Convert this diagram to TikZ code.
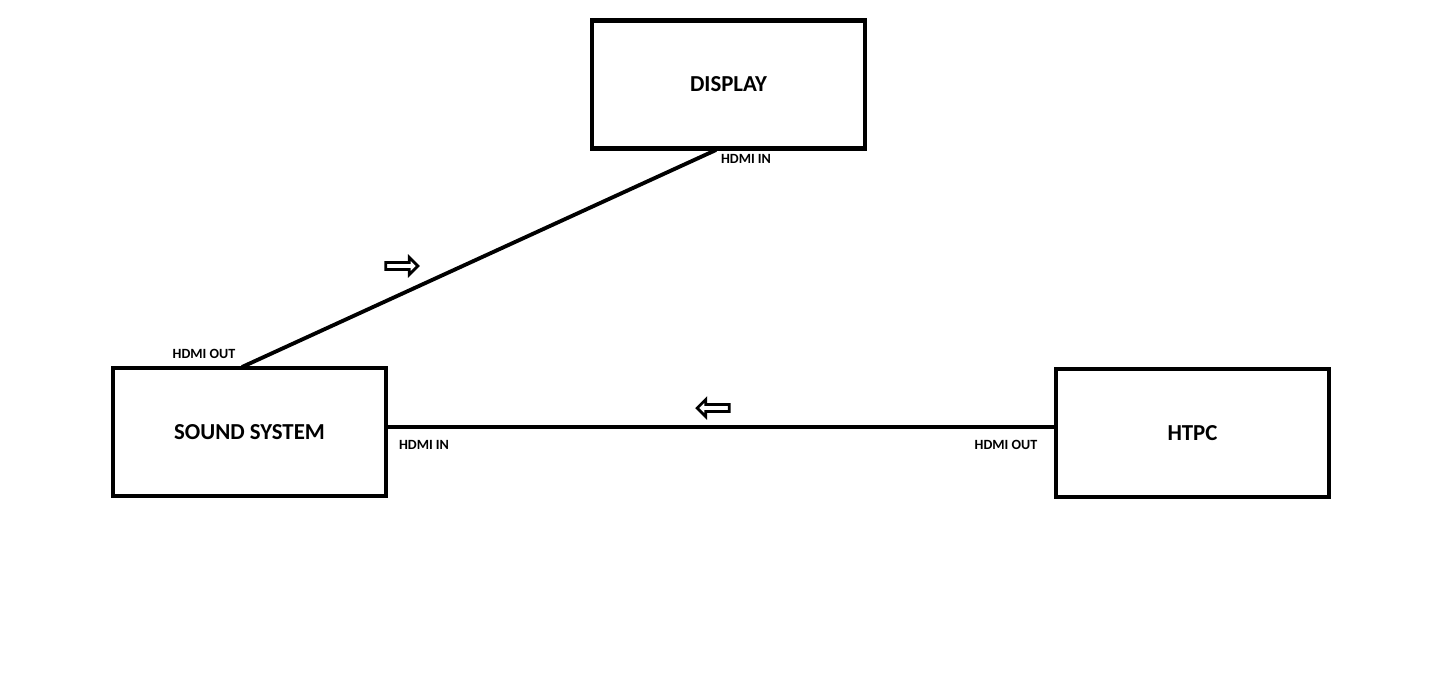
\documentclass[tikz,border=0pt]{standalone}
\usepackage{fontspec}
\setmainfont{Carlito}
\usetikzlibrary{shapes.arrows}
\tikzset{
  device/.style={draw, line width=1.2pt, minimum width=2.73cm, minimum height=1.28cm, font=\bfseries\fontsize{6.5}{7}\selectfont},
  port/.style={font=\bfseries\fontsize{4}{5}\selectfont, inner sep=1pt},
  cable/.style={line width=1.1pt},
  flow/.style={draw, single arrow, line width=0.8pt, minimum height=0.32cm, single arrow head extend=0.05cm, inner sep=0.6pt}
}
\begin{document}
\begin{tikzpicture}[x=0.01cm,y=-0.01cm]
\useasboundingbox (0,0) rectangle (1454,679);
\node[device] (display) at (728.5,84.5) {DISPLAY};
\node[device] (sound) at (249.5,432) {SOUND SYSTEM};
\node[device] (htpc) at (1192.5,433) {HTPC};
\coordinate (dispin) at (716,150);
\coordinate (soundout) at (242,367);
\draw[cable] (soundout) -- (dispin);
\draw[cable] (sound.east |- 0,427) -- (htpc.west |- 0,427);
\node[port] at (746,159) {HDMI IN};
\node[port] at (204,354) {HDMI OUT};
\node[port] at (424,445) {HDMI IN};
\node[port] at (1006,445) {HDMI OUT};
\node[flow] (toright) at (400,266) {};
\node[flow, shape border rotate=180] (toleft) at (715,408) {};
\end{tikzpicture}
\end{document}
